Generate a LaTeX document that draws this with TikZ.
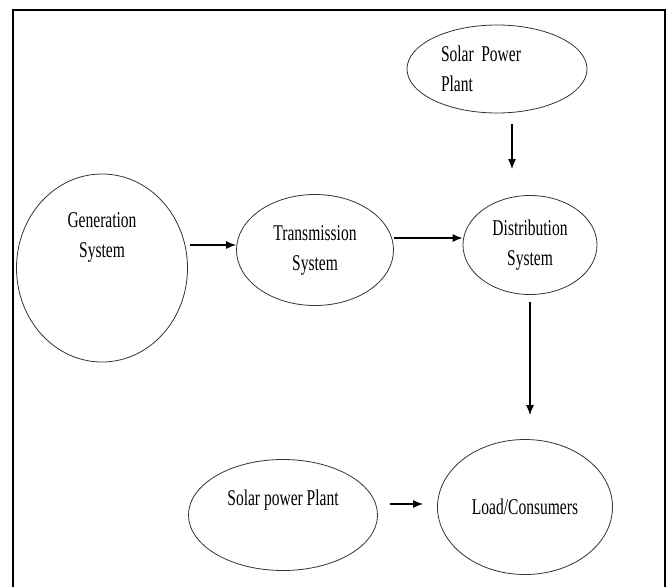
\documentclass[tikz,border=0pt]{standalone}
\usepackage{fontspec}
\setmainfont{Liberation Serif}[FakeStretch=0.69]
\usetikzlibrary{shapes.geometric, arrows.meta}

\begin{document}
\begin{tikzpicture} [x=1pt, y=-1pt, font=\fontsize{22.5}{30}\selectfont,
  unit/.style={ellipse, draw=black!80, line width=.8pt, inner sep=0pt, align=center},
  flow/.style={-{Latex[length=10pt, width=8pt]}, line width=1.3pt}]
\useasboundingbox (0,0) rectangle (668,586);
\draw [line width=2.5pt] (13,600) -- (13,10) -- (665,10) -- (665,600);
% the units
\node[unit, minimum width=171pt, minimum height=188pt,
  label={[yshift=31pt, align=center]center:Generation\\System}] (gen) at (102,268) {};
\node[unit, minimum width=157pt, minimum height=111pt] (trans) at (315,250) {Transmission\\System};
\node[unit, minimum width=134pt, minimum height=99pt] (dist) at (530,245) {Distribution\\System};
\node[unit, minimum width=180pt, minimum height=88pt, text width=112pt, align=left] (solar) at (497,69) {Solar Power\\Plant};
\node[unit, minimum width=175pt, minimum height=135pt] (load) at (525,507) {Load/Consumers};
\node[unit, minimum width=189pt, minimum height=111pt,
  label={[yshift=15pt]center:Solar power Plant}] (psolar) at (283,515) {};
% the links
\draw [flow, shorten <=2pt] ([yshift=5pt]gen.east |- trans.west) -- ([yshift=5pt]trans.west);
\draw [flow] ([yshift=12pt]trans.east) -- ([yshift=12pt]trans.east -| dist.west);
\draw [flow, shorten <=11pt, shorten >=26pt] ([xshift=15pt]solar.south) -- ([xshift=15pt]solar.south |- dist.north);
\draw [flow, shorten <=7pt, shorten >=24pt] (dist.south) -- (dist.south |- load.north);
\draw [flow, shorten <=12pt, shorten >=14pt] ([yshift=11pt]psolar.east) -- ([yshift=11pt]psolar.east -| load.west);
\end{tikzpicture}
\end{document}
